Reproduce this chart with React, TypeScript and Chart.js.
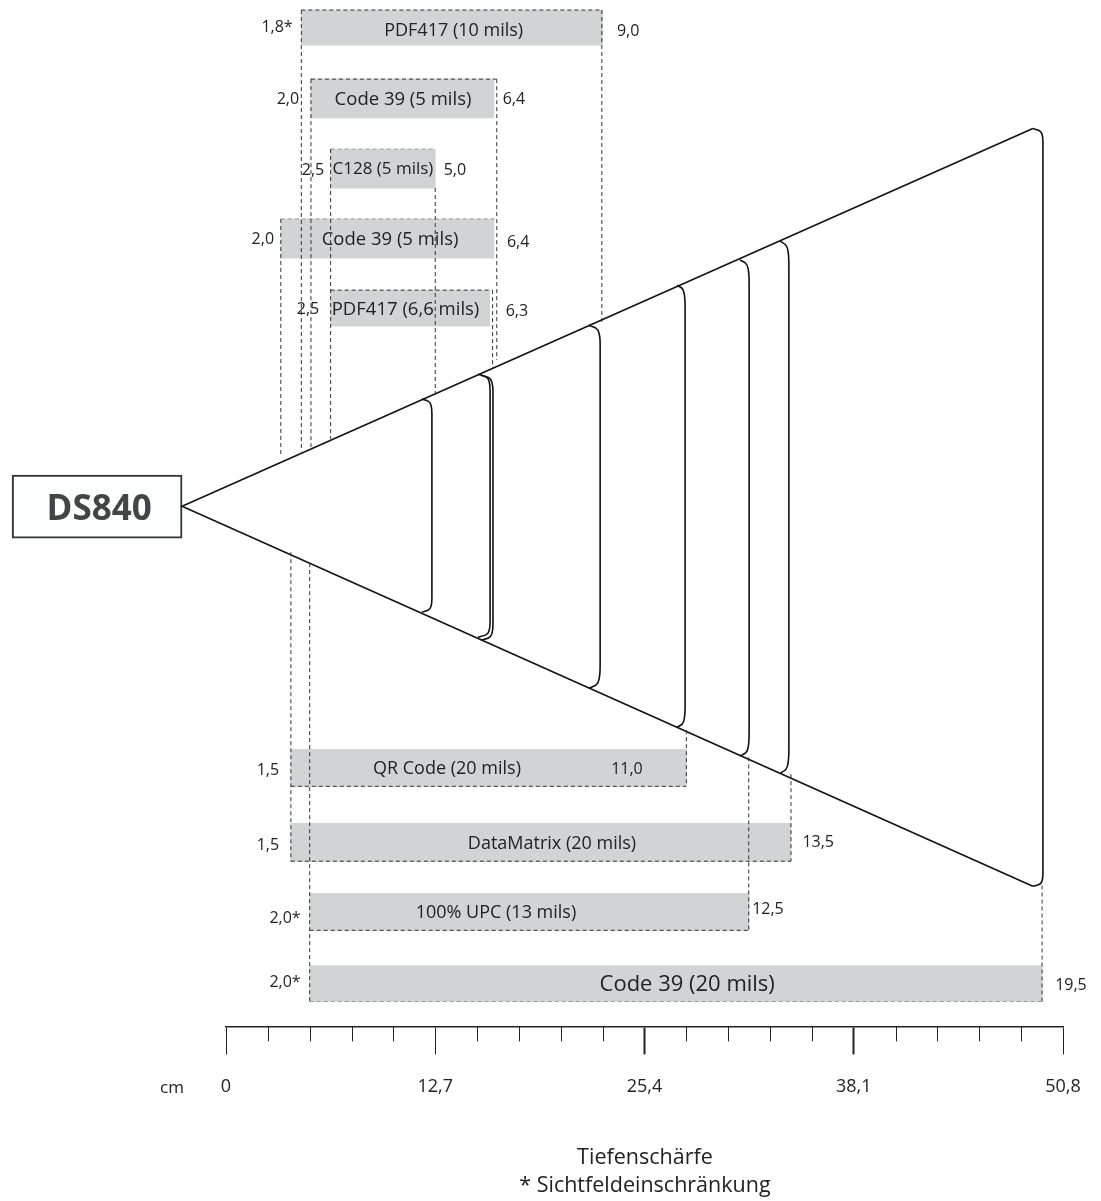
import { useEffect, useRef } from "react";
import { Chart, registerables } from "chart.js";

Chart.register(...registerables);

// ---- Data (inches along depth, inches off the beam centre) ----
const rowNames = ["PDF417 (10 mils)", "Code 39 (5 mils)", "C128 (5 mils)", "Code 39 (5 mils)", "PDF417 (6,6 mils)", "QR Code (20 mils)", "DataMatrix (20 mils)", "100% UPC (13 mils)", "Code 39 (20 mils)"];
const rowStart = [1.8, 2.03, 2.5, 1.31, 2.5, 1.55, 1.55, 2.0, 2.0];
const rowEnd = [9.0, 6.4, 5.0, 6.4, 6.3, 11.0, 13.5, 12.5, 19.5];
const rowCentre = [11.43, 9.74, 8.06, 6.39, 4.73, -6.25, -8.03, -9.69, -11.4];
const startLabels = ["1,8*", "2,0", "2,5", "2,0", "2,5", "1,5", "1,5", "2,0*", "2,0*"];
const endLabels = ["9,0", "6,4", "5,0", "6,4", "6,3", "11,0", "13,5", "12,5", "19,5"];

// x, y from, y to
const leaderLines: number[][] = [
  [1.8, 11.85, 1.31], [2.03, 10.2, 1.41], [2.5, 8.53, 1.6], [1.31, 6.86, 1.22],
  [6.47, 10.2, 3.49], [6.37, 5.16, 3.3], [5.0, 7.6, 2.65], [8.98, 11.85, 4.4],
  [1.55, -1.1, -8.48], [2.0, -1.36, -11.83], [11.0, -5.35, -6.69],
  [12.49, -6.0, -10.13], [13.5, -6.4, -8.48], [19.5, -9.06, -11.83],
];
// y, x from, x to
const darkEdges: number[][] = [
  [11.85, 1.8, 8.98], [10.2, 2.03, 6.47], [5.16, 2.5, 6.37],
  [-6.69, 1.55, 11.0], [-8.48, 1.55, 13.5], [-10.13, 2.0, 12.49],
];
const lightEdges: number[][] = [
  [8.53, 2.5, 5.0], [6.86, 1.31, 6.47], [-11.83, 2.0, 19.5],
];

const coneX = [19.28, -1.05, 19.28];
const coneY = [9.02, 0, -9.08];
// near-edge x, far-edge x, outer top y, inner top y, inner bottom y, outer bottom y
const rangeArcs: number[][] = [
  [4.68, 4.92, 2.56, 2.2, -2.2, -2.53],
  [6.02, 6.31, 3.15, 2.77, -2.77, -3.13],
  [6.09, 6.38, 3.13, 2.72, -2.82, -3.2],
  [8.67, 8.94, 4.32, 3.85, -3.8, -4.35],
  [10.78, 10.97, 5.28, 4.73, -4.75, -5.28],
  [12.28, 12.5, 5.88, 5.33, -5.42, -5.97],
  [13.24, 13.45, 6.33, 5.73, -5.78, -6.38],
  [19.28, 19.52, 9.02, 8.7, -8.77, -9.08],
];

const scannerName = "DS840";
const scannerSpan = [-5.11, -1.05];
const majorInches = [0, 5, 10, 15, 20];
const cmLabels = ["0", "12,7", "25,4", "38,1", "50,8"];
const unitLabel = "cm";
const captions = ["Tiefenschärfe", "* Sichtfeldeinschränkung"];

// ---- Layout and style ----
const FONT = '"Open Sans"';
const rowThickness = [35, 39, 39, 39, 36, 37, 38, 37, 36];
const nameSpots = [[5.44, 11.37, 18], [4.23, 9.74, 18.5], [3.75, 8.08, 17], [3.92, 6.38, 18.5], [4.29, 4.71, 18.5], [5.28, -6.24, 18], [7.79, -8.05, 18], [6.45, -9.68, 18], [11.02, -11.4, 22]];
const startSpots = [[1.22, 11.45], [1.48, 9.75], [2.08, 8.05], [0.88, 6.4], [1.96, 4.73], [1.0, -6.28], [1.0, -8.08], [1.41, -9.82], [1.41, -11.35]];
const endSpots = [[9.61, 11.37], [6.88, 9.73], [5.47, 8.05], [6.98, 6.33], [6.95, 4.68], [9.58, -6.26], [14.15, -8.0], [12.95, -9.61], [20.19, -11.42]];
const unitSpot = [-1.29, -13.88];
const captionSpots = [[10.01, -15.53], [10.01, -16.2]];
const scannerSpot = [-3.03, -0.07];

const textPlugin = {
  id: "chartText",
  afterDatasetsDraw(chart: any) {
    const { ctx, scales } = chart;
    const put = (t: string, x: number, y: number, font: string, color = "#222") => {
      ctx.font = font;
      ctx.fillStyle = color;
      ctx.textAlign = "center";
      ctx.textBaseline = "middle";
      ctx.fillText(t, scales.x.getPixelForValue(x), scales.y.getPixelForValue(y) + 1);
    };
    ctx.save();
    rowNames.forEach((t, i) => put(t, nameSpots[i][0], nameSpots[i][1], `${nameSpots[i][2]}px ${FONT}`));
    startLabels.forEach((t, i) => put(t, startSpots[i][0], startSpots[i][1], `16px ${FONT}`));
    endLabels.forEach((t, i) => put(t, endSpots[i][0], endSpots[i][1], `16px ${FONT}`));
    put(unitLabel, unitSpot[0], unitSpot[1], `17px ${FONT}`);
    captions.forEach((t, i) => put(t, captionSpots[i][0], captionSpots[i][1], `21.5px ${FONT}`));
    put(scannerName, scannerSpot[0], scannerSpot[1], `bold 35px ${FONT}`, "#444");
    ctx.restore();
  },
};

const minorTicksPlugin = {
  id: "minorTicks",
  afterDatasetsDraw(chart: any) {
    const { ctx, scales, chartArea } = chart;
    ctx.save();
    ctx.strokeStyle = "#222";
    ctx.lineWidth = 1;
    scales.x.ticks.forEach((t: any) => {
      if (majorInches.includes(t.value)) return;
      const px = Math.round(scales.x.getPixelForValue(t.value)) + 0.5;
      ctx.beginPath();
      ctx.moveTo(px, chartArea.bottom);
      ctx.lineTo(px, chartArea.bottom + 15);
      ctx.stroke();
    });
    ctx.restore();
  },
};

const solid = (data: any[], extra: any = {}) => ({
  type: "scatter", data, showLine: true, pointRadius: 0, borderColor: "#111", borderWidth: 1.6,
  fill: false, clip: false, order: 1, indexAxis: "x", ...extra,
});
const dashed = (a: number[], b: number[], color: string) =>
  solid([{ x: a[0], y: a[1] }, { x: b[0], y: b[1] }], { borderColor: color, borderWidth: 1, borderDash: [4, 3] });

// The two rounded shoulders of a range line, tracing how it leaves the beam edge.
const arcOutline = ([xa, xb, y0, y1, y2, y3]: number[]) => {
  const d = xb - xa;
  const top = y0 - y1;
  const bot = y2 - y3;
  return [
    { x: xa, y: y0 },
    { x: xa + 0.62 * d, y: y0 - 0.14 * top },
    { x: xa + 0.92 * d, y: y0 - 0.45 * top },
    { x: xb, y: y1 },
    { x: xb, y: y2 },
    { x: xa + 0.92 * d, y: y3 + 0.45 * bot },
    { x: xa + 0.62 * d, y: y3 + 0.14 * bot },
    { x: xa, y: y3 },
  ];
};

export default function App() {
  const ref = useRef<HTMLCanvasElement>(null);
  useEffect(() => {
    const datasets: any[] = [
      ...rowNames.map((n, i) => ({
        type: "bar", label: n, indexAxis: "y", grouped: false, clip: false, order: 2,
        data: [{ x: [rowStart[i], rowEnd[i]], y: rowCentre[i] }],
        barThickness: rowThickness[i], backgroundColor: "#d1d3d4", borderWidth: 0,
      })),
      {
        type: "bar", label: scannerName, indexAxis: "y", grouped: false, clip: false, order: 2,
        data: [{ x: scannerSpan, y: -0.01 }], barThickness: 63, backgroundColor: "#fcfeff",
        borderColor: "#333", borderWidth: 2, borderSkipped: false,
      },
      ...leaderLines.map(([x, a, b]) => dashed([x, a], [x, b], "#333")),
      ...darkEdges.map(([y, a, b]) => dashed([a, y], [b, y], "#333")),
      ...lightEdges.map(([y, a, b]) => dashed([a, y], [b, y], "#999")),
      solid(coneX.map((x, i) => ({ x, y: coneY[i] }))),
      ...rangeArcs.map((arc) =>
        solid(arcOutline(arc), { indexAxis: "y", cubicInterpolationMode: "monotone" })
      ),
    ];
    const chart = new Chart(ref.current as HTMLCanvasElement, {
      type: "bar",
      data: { datasets },
      options: {
        indexAxis: "y",
        responsive: false,
        animation: false,
        layout: { padding: { left: 226, right: 38, top: 0, bottom: 81 } },
        plugins: { legend: { display: false }, tooltip: { enabled: false } },
        scales: {
          x: {
            type: "linear", min: 0, max: 20, offset: false,
            afterFit: (s: any) => { s.paddingRight = 18; s.paddingLeft = 6; },
            border: { display: true, color: "#222", width: 1.5 },
            grid: {
              offset: false, drawOnChartArea: false, drawTicks: true, tickLength: 28,
              tickColor: (c: any) => (majorInches.includes(c.tick?.value) ? "#222" : "rgba(0,0,0,0)"),
              tickWidth: (c: any) => (c.tick?.value === 10 || c.tick?.value === 15 ? 2 : 1),
            },
            ticks: {
              stepSize: 1, autoSkip: false, maxRotation: 0, minRotation: 0, padding: 22, color: "#222",
              font: { family: FONT, size: 18 },
              callback: (v: any) => {
                const k = majorInches.indexOf(Number(v));
                return k >= 0 ? cmLabels[k] : "";
              },
            },
          },
          y: { type: "linear", min: -12.425, max: 12.09, display: false, offset: false, grid: { offset: false } },
        },
      } as any,
      plugins: [textPlugin, minorTicksPlugin],
    } as any);
    return () => chart.destroy();
  }, []);
  return (
    <canvas
      ref={ref}
      width={1101}
      height={1201}
      style={{ position: "absolute", left: 0, top: 0, width: 1101, height: 1201, background: "#fff" }}
    />
  );
}
